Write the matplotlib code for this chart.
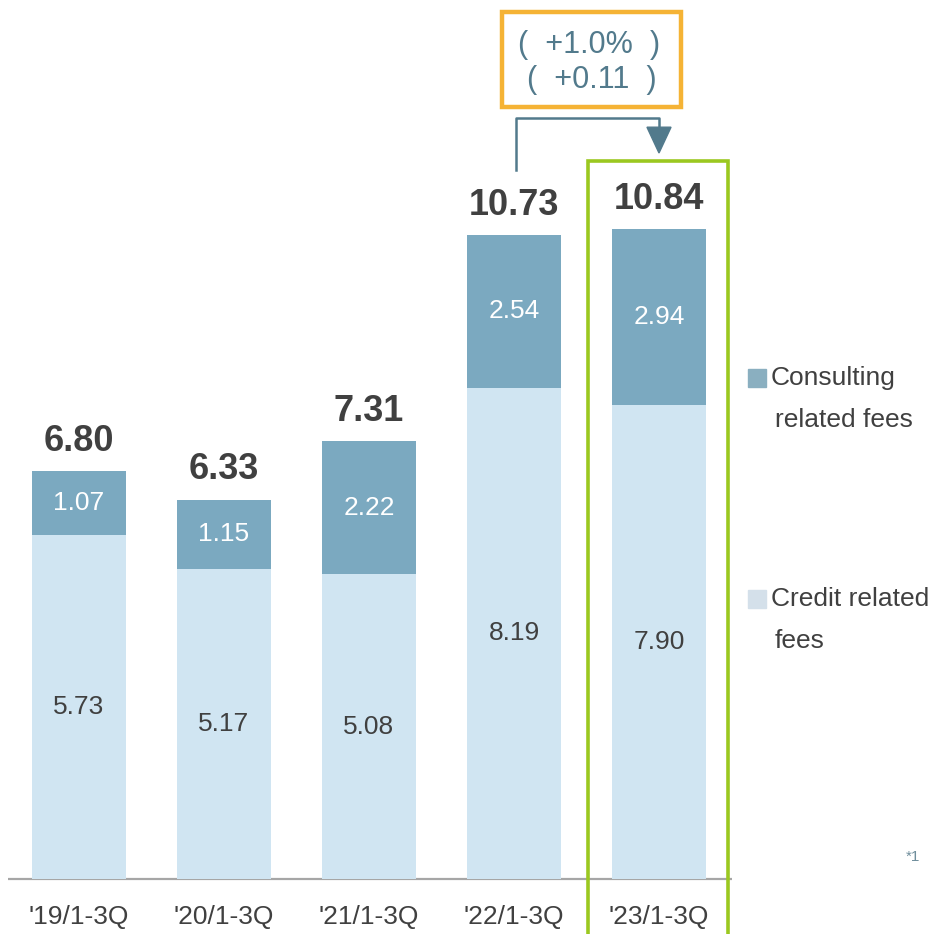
import numpy as np
import matplotlib
matplotlib.use("Agg")
from matplotlib import pyplot as plt
from matplotlib.patches import Rectangle, Polygon

# data (JPY bn)
periods = ["'19/1-3Q", "'20/1-3Q", "'21/1-3Q", "'22/1-3Q", "'23/1-3Q"]
credit = [5.73, 5.17, 5.08, 8.19, 7.90]
consulting = [1.07, 1.15, 2.22, 2.54, 2.94]
totals = [6.80, 6.33, 7.31, 10.73, 10.84]
chg_pct = "(  +1.0%  )"
chg_abs = "(  +0.11  )"

c_dark = '#7BA9C0'
c_light = '#D0E5F2'
c_txt = '#404040'
c_note = '#527A8C'

plt.rcParams['font.family'] = ['Liberation Sans', 'DejaVu Sans']

fig = plt.figure(figsize=(9.31, 9.34), dpi=100)
ax = fig.add_axes([0, 0, 1, 1])
# pixel mapping: bar i centre at 79+145*i px, baseline 879 px, 60 px per unit
ax.set_xlim(-79/145, (931-79)/145)
ax.set_ylim((879-934)/60, 879/60)
ax.axis('off')

x = np.arange(len(periods))
w = 94/145
ax.bar(x, credit, w, color=c_light, zorder=2)
ax.bar(x, consulting, w, bottom=credit, color=c_dark, zorder=2)

for i in range(len(x)):
    ax.text(x[i], credit[i]/2, f"{credit[i]:.2f}", ha='center', va='center',
            fontsize=19, color=c_txt, zorder=3)
    ax.text(x[i], credit[i] + consulting[i]/2, f"{consulting[i]:.2f}", ha='center',
            va='center', fontsize=19, color='white', zorder=3)
    ax.text(x[i], totals[i] + 0.33, f"{totals[i]:.2f}", ha='center', va='baseline',
            fontsize=26, fontweight='bold', color=c_txt, zorder=3)
    ax.text(x[i], -0.64, periods[i], ha='center', va='center', fontsize=19,
            color=c_txt)

# baseline
ax.plot([(8-79)/145, (732-79)/145], [0, 0], color='#A6A6A6', lw=1.6, zorder=1,
        solid_capstyle='butt')

# green highlight around latest period
ax.add_patch(Rectangle((x[4]-0.49, -2), 0.965, totals[4] + 3.12, fill=False,
                       ec='#9BC820', lw=2.6, zorder=4, clip_on=False))

# orange change box
ax.add_patch(Rectangle((2.917, 12.87), 1.235, 1.58, fill=False, ec='#F5B335',
                       lw=3.2, zorder=4))
ax.text(3.52, 13.9, chg_pct, ha='center', va='center', fontsize=22, color=c_note)
ax.text(3.54, 13.32, chg_abs, ha='center', va='center', fontsize=22, color=c_note)

# connector arrow from '22 to '23
ytop = 12.68
ax.plot([x[3]+0.014, x[3]+0.014, x[4], x[4]], [totals[3]+1.08, ytop, ytop, 12.5],
        color=c_note, lw=1.8, zorder=4)
ax.add_patch(Polygon([[x[4]-0.083, 12.53], [x[4]+0.083, 12.53], [x[4], 12.1]],
                     closed=True, color=c_note, zorder=4))

# legend
def legend_item(ypx, color, line1, line2, indent2):
    fig.patches.append(Rectangle((748/931, 1-(ypx+9)/934), 18/931, 18/934,
                                 color=color, transform=fig.transFigure))
    fig.text(771/931, 1-ypx/934, line1, ha='left', va='center', fontsize=19,
             color=c_txt)
    fig.text(indent2/931, 1-(ypx+42)/934, line2, ha='left', va='center',
             fontsize=19, color=c_txt)

legend_item(378, '#8AAFC0', "Consulting", "related fees", 775)
legend_item(599, '#D4E0EA', "Credit related", "fees", 775)

fig.text(913/931, 1-857/934, "*1", ha='center', va='center', fontsize=11,
         color='#6F8E9C')

fig.savefig('out.png', dpi=100)
